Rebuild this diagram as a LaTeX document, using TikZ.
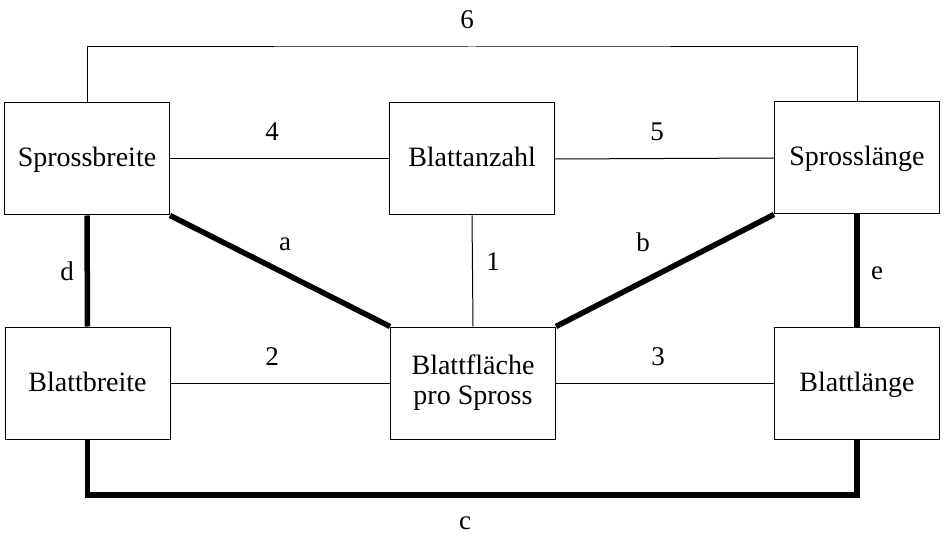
\documentclass[tikz,border=0pt]{standalone}
\usepackage{fontspec}
\setmainfont{Liberation Serif}
\begin{document}
\begin{tikzpicture}[x=1pt,y=-1pt,
  box/.style={draw,line width=1pt,minimum width=165pt,minimum height=112pt,inner sep=0pt,align=center,font=\fontsize{28}{30}\selectfont},
  one/.style={text height=20pt,text depth=4pt},
  thin/.style={line width=1pt},
  thick/.style={line width=5.5pt},
  lbl/.style={font=\fontsize{27}{30}\selectfont,inner sep=0pt}]
\path[use as bounding box] (0,0) rectangle (947,537);
\node[box,one] (sb) at (87,159) {Sprossbreite};
\node[box,one] (ba) at (472,159) {Blattanzahl};
\node[box,one] (sl) at (857,158) {Sprosslänge};
\node[box,one] (bb) at (87.5,383) {Blattbreite};
\node[box] (bf) at (473,383) {Blattfläche\\pro Spross};
\node[box,one] (bl) at (857,383) {Blattlänge};
\coordinate (t6) at (472,47);
\coordinate (bc) at (472,495);
\draw[thin] (sb.north) |- (t6) -| (sl.north);
\draw[thick] (bb.south) |- (bc) -| (bl.south);
\draw[thick] (sb.south) -- (bb.north);
\draw[thick] (sl.south) -- (bl.north);
\draw[thin] (sb.east) -- (ba.west);
\draw[thin] (ba.east) -- (sl.west);
\draw[thin] (bb.east) -- (bf.west);
\draw[thin] (bf.east) -- (bl.west);
\draw[thin] (ba.south) -- (bf.north);
\draw[thick] (sb.south east) -- (bf.north west);
\draw[thick] (bf.north east) -- (sl.south west);
\node[lbl] (l6) at (467,20) {6};
\node[lbl] (l4) at (272,132) {4};
\node[lbl] (l5) at (657,132) {5};
\node[lbl] (la) at (285,244) {a};
\node[lbl] (lb) at (643,242) {b};
\node[lbl] (l1) at (493,262) {1};
\node[lbl] (ld) at (67,271) {d};
\node[lbl] (le) at (877,273) {e};
\node[lbl] (l2) at (272,357) {2};
\node[lbl] (l3) at (658,357) {3};
\node[lbl] (lc) at (465,523) {c};
\end{tikzpicture}
\end{document}
